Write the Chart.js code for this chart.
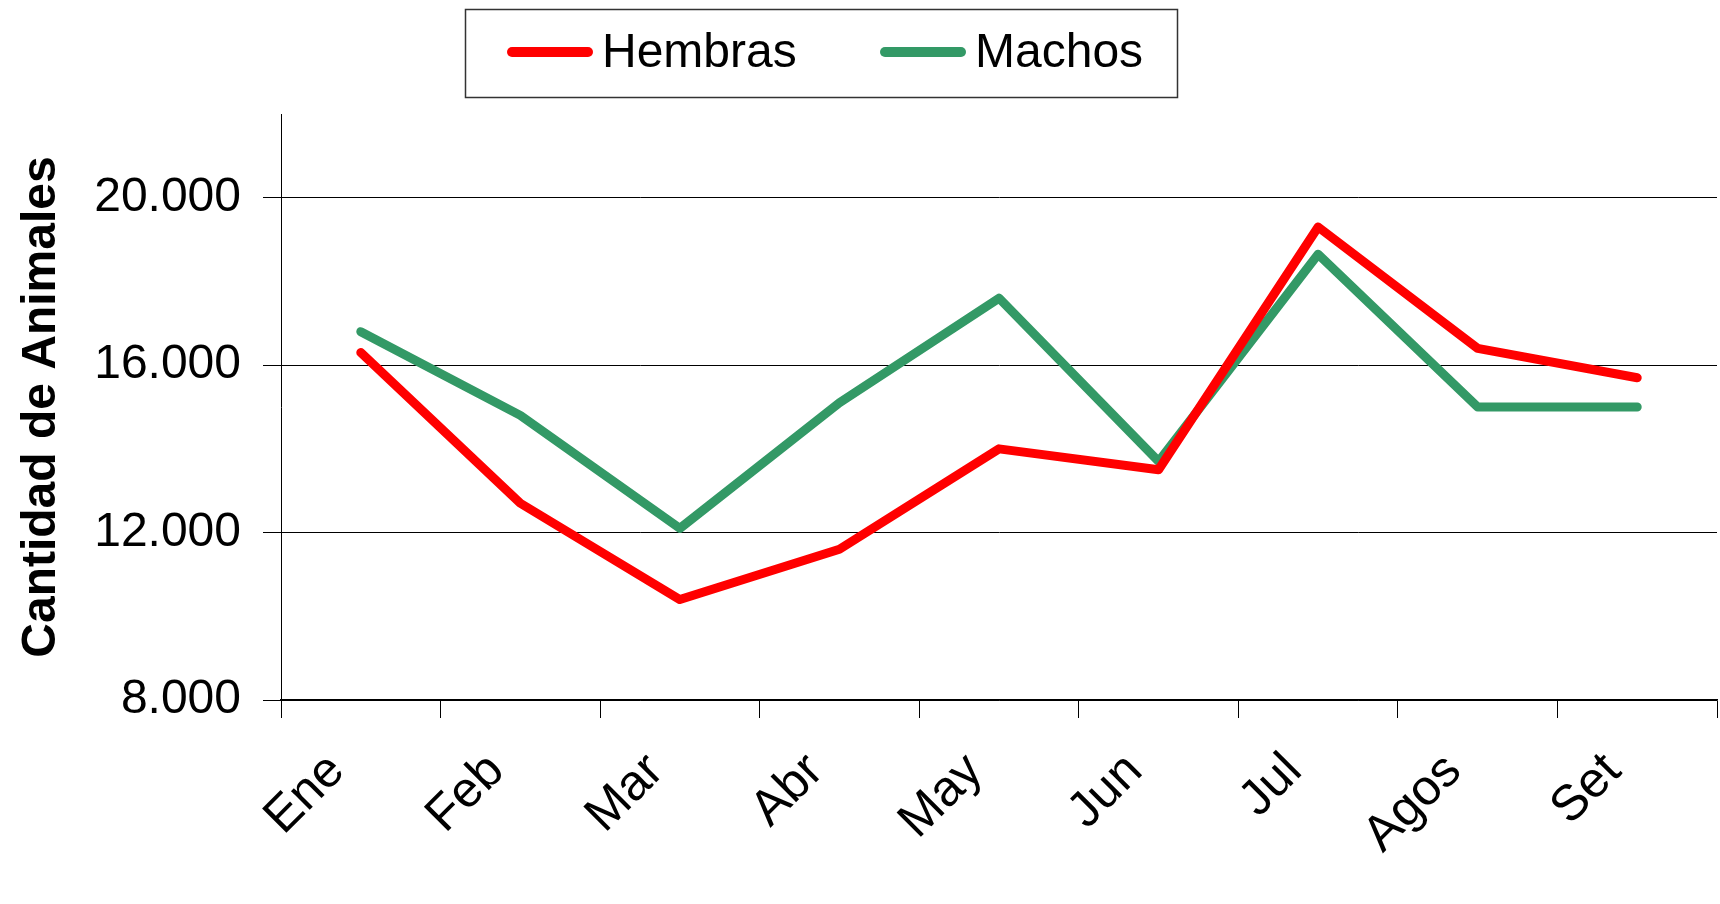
<!DOCTYPE html>
<html lang="es">
<head>
  <meta charset="UTF-8">
  <title>Cantidad de Animales</title>
  <script src="https://cdn.jsdelivr.net/npm/chart.js"></script>
  <style>
    body { margin: 0; background: #fff; }
    #wrap { width: 1720px; height: 904px; }
  </style>
</head>
<body>
  <div id="wrap">
    <canvas id="chart" width="1720" height="904"></canvas>
  </div>

  <script>
    const months = ['Ene', 'Feb', 'Mar', 'Abr', 'May', 'Jun', 'Jul', 'Agos', 'Set'];
    const hembras = [16300, 12700, 10400, 11600, 14000, 13500, 19300, 16400, 15700];
    const machos = [16800, 14800, 12100, 15100, 17600, 13700, 18650, 15000, 15000];
    const yTicks = [8000, 12000, 16000, 20000];

    const FONT = "'Liberation Sans', Arial, sans-serif";

    // number with dot as thousands separator, like 20.000
    function fmt(v) {
      return String(v).replace(/\B(?=(\d{3})+(?!\d))/g, '.');
    }

    // boxed legend drawn at the top, like the original
    const boxLegend = {
      id: 'boxLegend',
      afterDraw(chart) {
        const ctx = chart.ctx;
        ctx.save();
        ctx.strokeStyle = '#333';
        ctx.lineWidth = 1.5;
        ctx.strokeRect(465.5, 9.5, 712, 88);

        const starts = [508, 881];
        ctx.font = '48px ' + FONT;
        ctx.textBaseline = 'middle';
        ctx.fillStyle = '#000';
        chart.data.datasets.forEach((ds, i) => {
          const x = starts[i];
          ctx.beginPath();
          ctx.strokeStyle = ds.borderColor;
          ctx.lineWidth = 10;
          ctx.lineCap = 'round';
          ctx.moveTo(x + 4, 52);
          ctx.lineTo(x + 80, 52);
          ctx.stroke();
          ctx.fillText(ds.label, x + 94, 54);
        });
        ctx.restore();
      }
    };

    new Chart(document.getElementById('chart'), {
      type: 'line',
      data: {
        labels: months,
        datasets: [
          {
            label: 'Hembras',
            data: hembras,
            borderColor: '#ff0000',
            backgroundColor: '#ff0000',
            borderWidth: 9,
            borderCapStyle: 'round',
            borderJoinStyle: 'round',
            pointRadius: 0,
            tension: 0
          },
          {
            label: 'Machos',
            data: machos,
            borderColor: '#339966',
            backgroundColor: '#339966',
            borderWidth: 9,
            borderCapStyle: 'round',
            borderJoinStyle: 'round',
            pointRadius: 0,
            tension: 0
          }
        ]
      },
      options: {
        responsive: false,
        animation: false,
        layout: { padding: { top: 114, right: 3, left: 0, bottom: 0 } },
        plugins: {
          legend: { display: false },
          tooltip: { enabled: false }
        },
        scales: {
          x: {
            offset: true,
            grid: {
              offset: true,
              drawOnChartArea: false,
              color: '#000',
              tickLength: 18
            },
            border: { color: '#000', width: 1.5 },
            ticks: {
              autoSkip: false,
              minRotation: 45,
              maxRotation: 45,
              padding: 24,
              labelOffset: -24,
              color: '#000',
              font: { family: FONT, size: 50 }
            },
            afterFit(scale) { scale.height = 204; }
          },
          y: {
            min: 8000,
            max: 22000,
            afterBuildTicks(scale) {
              scale.ticks = yTicks.map(v => ({ value: v }));
            },
            grid: {
              color: '#000',
              lineWidth: 1,
              tickLength: 18
            },
            border: { color: '#000', width: 1 },
            ticks: {
              padding: 22,
              color: '#000',
              font: { family: FONT, size: 48 },
              callback: v => fmt(v)
            },
            title: {
              display: true,
              text: 'Cantidad de Animales',
              color: '#000',
              padding: { top: 13, bottom: 0 },
              font: { family: FONT, size: 48, weight: 'bold' }
            },
            afterFit(scale) { scale.width = 281; }
          }
        }
      },
      plugins: [boxLegend]
    });
  </script>
</body>
</html>
